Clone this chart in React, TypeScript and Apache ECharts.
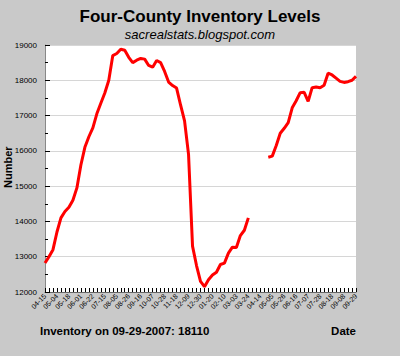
import React, { useEffect, useRef } from "react";
import * as echarts from "echarts";

const dates: string[] = [
  "2006-04-15", "2006-04-22", "2006-04-29", "2006-05-04", "2006-05-09", "2006-05-13",
  "2006-05-18", "2006-05-23", "2006-05-27", "2006-06-01", "2006-06-08", "2006-06-15",
  "2006-06-22", "2006-06-29", "2006-07-08", "2006-07-15", "2006-07-22", "2006-07-29",
  "2006-08-05", "2006-08-12", "2006-08-19", "2006-08-26", "2006-09-02", "2006-09-09",
  "2006-09-16", "2006-09-23", "2006-09-30", "2006-10-07", "2006-10-14", "2006-10-21",
  "2006-10-28", "2006-11-04", "2006-11-11", "2006-11-18", "2006-11-25", "2006-12-02",
  "2006-12-09", "2006-12-16", "2006-12-23", "2006-12-30", "2007-01-06", "2007-01-13",
  "2007-01-20", "2007-01-27", "2007-02-03", "2007-02-10", "2007-02-17", "2007-02-24",
  "2007-03-03", "2007-03-10", "2007-03-17", "2007-03-24", "2007-03-31", "2007-04-07",
  "2007-04-14", "2007-04-21", "2007-04-28", "2007-05-05", "2007-05-12", "2007-05-19",
  "2007-05-26", "2007-06-02", "2007-06-09", "2007-06-16", "2007-06-23", "2007-06-30",
  "2007-07-07", "2007-07-14", "2007-07-21", "2007-07-28", "2007-08-04", "2007-08-11",
  "2007-08-18", "2007-08-25", "2007-09-01", "2007-09-08", "2007-09-15", "2007-09-22",
  "2007-09-29",
];

const inventory: (number | null)[] = [
  12820, 13000, 13200, 13700, 14100, 14280,
  14400, 14600, 14950, 15600, 16100, 16400,
  16650, 17050, 17350, 17640, 18000, 18700,
  18760, 18880, 18850, 18650, 18500, 18570,
  18620, 18600, 18420, 18370, 18560, 18500,
  18250, 17950, 17850, 17780, 17300, 16850,
  15900, 13300, 12750, 12300, 12150, 12350,
  12480, 12560, 12780, 12820, 13100, 13270,
  13260, 13600, 13750, 14100, null, null,
  null, null, 15820, 15850, 16150, 16500,
  16640, 16800, 17220, 17420, 17650, 17660,
  17400, 17790, 17810, 17790, 17860, 18200,
  18150, 18060, 17970, 17940, 17960, 18000,
  18110,
];

const yMin = 12000;
const yMax = 19000;

const titleText = "Four-County Inventory Levels";
const subtitleText = "sacrealstats.blogspot.com";
const yAxisName = "Number";
const footerText = "Inventory on 09-29-2007: 18110";
const xAxisName = "Date";

export default function App() {
  const ref = useRef<HTMLDivElement>(null);
  useEffect(() => {
    if (!ref.current) return;
    const chart = echarts.init(ref.current, null, { renderer: "svg" });
    const font = "'Liberation Sans', Arial, sans-serif";
    chart.setOption({
      animation: false,
      backgroundColor: "#c9c9c9",
      textStyle: { fontFamily: font },
      title: [
        {
          text: titleText,
          left: "center",
          top: 3,
          textStyle: { fontSize: 17, fontWeight: "bold", color: "#000", fontFamily: font },
        },
        {
          text: subtitleText,
          left: "center",
          top: 23,
          textStyle: { fontSize: 13, fontStyle: "italic", fontWeight: "normal", color: "#000", fontFamily: font },
        },
      ],
      graphic: [
        {
          type: "text",
          left: 40,
          top: 325,
          style: { text: footerText, font: `bold 11.5px ${font}`, fill: "#000" },
        },
        {
          type: "text",
          right: 44,
          top: 325,
          style: { text: xAxisName, font: `bold 11.5px ${font}`, fill: "#000" },
        },
        {
          type: "text",
          x: 2,
          y: 188,
          rotation: Math.PI / 2,
          style: { text: yAxisName, font: `bold 11px ${font}`, fill: "#000" },
        },
      ],
      grid: {
        left: 45,
        right: 44,
        top: 45,
        bottom: 64,
        show: true,
        backgroundColor: "#ffffff",
        borderWidth: 0,
      },
      xAxis: {
        type: "category",
        data: dates,
        boundaryGap: false,
        axisLine: { show: true, lineStyle: { color: "#666", width: 1 } },
        axisTick: {
          show: true,
          inside: true,
          length: 4,
          interval: 0,
          lineStyle: { color: "#000" },
        },
        axisLabel: {
          interval: (i: number) => i % 3 === 0,
          rotate: 45,
          fontSize: 7,
          color: "#000",
          margin: 3,
          formatter: (v: string) => v.slice(5),
        },
        splitLine: { show: false },
      },
      yAxis: {
        type: "value",
        min: yMin,
        max: yMax,
        interval: 1000,
        axisLine: { show: true, lineStyle: { color: "#888", width: 1 } },
        axisTick: { show: true, inside: true, length: 5, lineStyle: { color: "#000" } },
        minorTick: { show: true, splitNumber: 2, length: 3, lineStyle: { color: "#000" } },
        axisLabel: { fontSize: 8, color: "#000", margin: 8, formatter: (v: number) => String(v) },
        splitLine: { show: true, lineStyle: { color: "#d6d6d6", width: 1 } },
      },
      series: [
        {
          type: "line",
          data: inventory,
          showSymbol: false,
          connectNulls: false,
          lineStyle: { color: "#ff0000", width: 3 },
          itemStyle: { color: "#ff0000" },
        },
      ],
    });
    return () => chart.dispose();
  }, []);
  return <div ref={ref} style={{ width: 400, height: 356, position: "absolute", left: 0, top: 0 }} />;
}
